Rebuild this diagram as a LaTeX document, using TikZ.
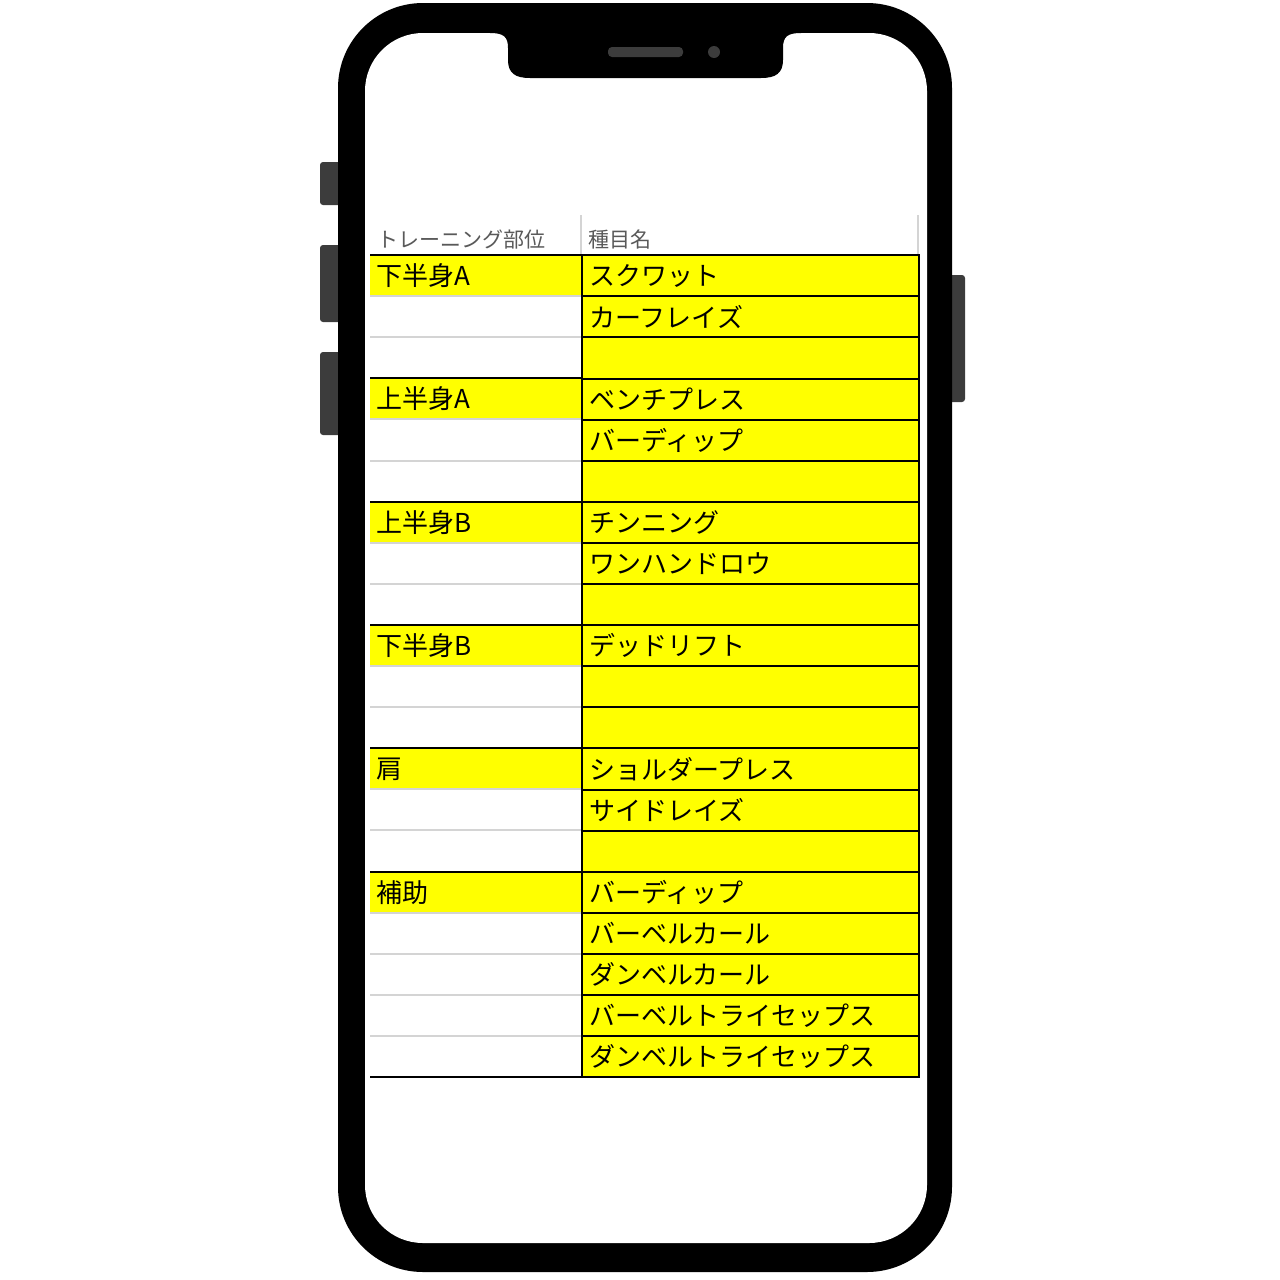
\documentclass[tikz,border=0pt]{standalone}
\usepackage{fontspec}
\newfontfamily\jpfont{Noto Sans CJK JP}
\usepackage{xcolor}
\usetikzlibrary{positioning,calc}

\definecolor{cellyellow}{HTML}{FFFF00}
\definecolor{buttongray}{HTML}{3C3C3C}
\definecolor{gridgray}{HTML}{D4D4D4}

\begin{document}
\begin{tikzpicture}[x=1pt, y=-1pt]
  % Define styles
  \tikzstyle{partcell} = [rectangle, anchor=north west, text width=199pt, minimum height=41.1pt, inner xsep=6pt, inner ysep=0pt, align=left, font={\jpfont\fontsize{26}{28}\selectfont}]
  \tikzstyle{exercell} = [rectangle, draw, line width=2pt, fill=cellyellow, text width=323pt, minimum height=41.1pt, inner xsep=7pt, inner ysep=0pt, align=left, font={\jpfont\fontsize{26}{28}\selectfont}]
  \tikzstyle{headcell} = [rectangle, anchor=north west, minimum height=40pt, inner xsep=7pt, inner ysep=0pt, align=left, text=black!65, font={\jpfont\fontsize{21}{23}\selectfont}]
  \tikzstyle{gridline} = [gridgray, line width=1.5pt]
  \tikzstyle{rule} = [black, line width=2pt]

  \useasboundingbox (0,0) rectangle (1280,1280);

  % Side buttons
  \fill[buttongray, rounded corners=3pt] (320,162) rectangle (345,205);
  \fill[buttongray, rounded corners=3pt] (320,245) rectangle (345,322);
  \fill[buttongray, rounded corners=3pt] (320,352) rectangle (345,435);
  \fill[buttongray, rounded corners=3pt] (945,275) rectangle (965,402);

  % Phone body and screen
  \fill[black, rounded corners=85pt] (338,3) rectangle (952,1272);
  \fill[white, rounded corners=58pt] (365,33) rectangle (927,1243);

  % Notch with speaker and camera
  \fill[black] (490,30) -- (490,33) .. controls (504,33) and (508,37) .. (508,48)
    -- (508,60) .. controls (508,73) and (515,78) .. (530,78)
    -- (761,78) .. controls (776,78) and (783,73) .. (783,60)
    -- (783,48) .. controls (783,37) and (787,33) .. (801,33) -- (801,30) -- cycle;
  \fill[buttongray, rounded corners=4pt] (608,47) rectangle (683,57);
  \fill[buttongray] (714,52) circle (6pt);

  % Header row
  \node[headcell, text width=197pt] (hl) at (370,219) {トレーニング部位};
  \node[headcell, text width=323pt, right=0pt of hl] (hr) {種目名};
  \draw[gridline] (581,215) -- (581,255);
  \draw[gridline] (918,215) -- (918,255);

  % Training parts (left column)
  \foreach \i/\cellfill/\cellrule/\zone in {
      1/cellyellow/black/下半身A, 2/white/gridgray/{}, 3/white/gridgray/{},
      4/cellyellow/black/上半身A, 5/white/gridgray/{}, 6/white/gridgray/{},
      7/cellyellow/black/上半身B, 8/white/gridgray/{}, 9/white/gridgray/{},
      10/cellyellow/black/下半身B, 11/white/gridgray/{}, 12/white/gridgray/{},
      13/cellyellow/black/肩, 14/white/gridgray/{}, 15/white/gridgray/{},
      16/cellyellow/black/補助, 17/white/gridgray/{}, 18/white/gridgray/{},
      19/white/gridgray/{}, 20/white/gridgray/{}} {
    \node[partcell, fill=\cellfill] (l\i) at (370,{255+41.1*(\i-1)}) {\zone};
    \draw[line width=2pt, draw=\cellrule] (l\i.north west) -- (l\i.north east);
  }
  \draw[rule] (l20.south west) -- (l20.south east);

  % Exercises (right column)
  \foreach \i/\move in {
      1/スクワット, 2/カーフレイズ, 3/{},
      4/ベンチプレス, 5/バーディップ, 6/{},
      7/チンニング, 8/ワンハンドロウ, 9/{},
      10/デッドリフト, 11/{}, 12/{},
      13/ショルダープレス, 14/サイドレイズ, 15/{},
      16/バーディップ, 17/バーベルカール, 18/ダンベルカール,
      19/バーベルトライセップス, 20/ダンベルトライセップス} {
    \node[exercell, right=0pt of l\i] (r\i) {\move};
  }
\end{tikzpicture}
\end{document}
